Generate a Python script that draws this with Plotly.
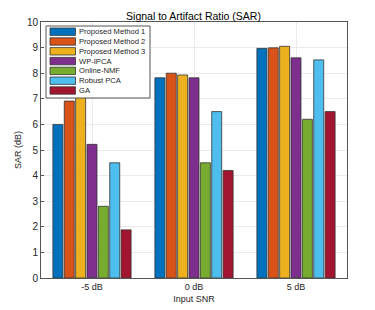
import plotly.graph_objects as go

categories = ["-5 dB", "0 dB", "5 dB"]
methods = ["Proposed Method 1", "Proposed Method 2", "Proposed Method 3",
           "WP-IPCA", "Online-NMF", "Robust PCA", "GA"]
pm1 = [6.0, 7.82, 8.97]
pm2 = [6.91, 8.0, 8.99]
pm3 = [7.06, 7.93, 9.05]
wpipca = [5.22, 7.82, 8.6]
onmf = [2.8, 4.5, 6.2]
rpca = [4.5, 6.5, 8.52]
ga = [1.88, 4.2, 6.5]
series = [pm1, pm2, pm3, wpipca, onmf, rpca, ga]
colors = ["#0072BD", "#D95319", "#EDB120", "#7E2F8E", "#77AC30", "#4DBEEE", "#A2142F"]

# page has an 8px body margin; figure sized to fit the window
OFF = 8
W, H = 375 - OFF, 310 - OFF
ML, MR, MT, MB = 41 - OFF, 28, 22 - OFF, 32
PW, PH = W - ML - MR, H - MT - MB


def px(x):  # page pixel -> paper
    return (x - OFF - ML) / PW


def py(y):
    return (H - MB - (y - OFF)) / PH


fig = go.Figure()
for name, vals, c in zip(methods, series, colors):
    fig.add_trace(go.Bar(x=categories, y=vals, name=name, marker_color=c,
                         marker_line_color="#333333", marker_line_width=0.8,
                         showlegend=False))

# compact MATLAB-style legend
shapes = [dict(type="rect", xref="paper", yref="paper",
               x0=px(46), x1=px(150), y0=py(26), y1=py(98),
               fillcolor="white", line=dict(color="#555555", width=1), layer="above")]
annotations = []
for i, (name, c) in enumerate(zip(methods, colors)):
    yc = 31.7 + i * 9.8
    shapes.append(dict(type="rect", xref="paper", yref="paper",
                       x0=px(50), x1=px(75.5), y0=py(yc - 3.7), y1=py(yc + 3.7),
                       fillcolor=c, line=dict(color="#333333", width=0.8), layer="above"))
    annotations.append(dict(text=name, xref="paper", yref="paper", x=px(76.5),
                            y=py(yc), xanchor="left", yanchor="middle",
                            showarrow=False, font=dict(size=7.6, color="#262626")))

font = "Liberation Sans, Arial, sans-serif"
fig.update_layout(
    width=W, height=H,
    margin=dict(l=ML, r=MR, t=MT, b=MB),
    paper_bgcolor="white", plot_bgcolor="white",
    barmode="group", bargap=0.22, bargroupgap=0.12,
    font=dict(family=font, size=9, color="#262626"),
    title=dict(text="Signal to Artifact Ratio (SAR)", x=(193.5 - OFF) / W,
               xanchor="center", y=1 - (16 - OFF) / H, yanchor="middle",
               font=dict(size=10.5, color="#000000")),
    showlegend=False,
    shapes=shapes, annotations=annotations,
    xaxis=dict(range=[-0.5, 2.5], showgrid=True, gridcolor="#ebebeb",
               showline=True, linecolor="#555555", mirror=True, linewidth=1,
               ticks="inside", ticklen=3, tickcolor="#555555", automargin=False,
               title=dict(text="Input SNR", font=dict(size=9, color="#262626"), standoff=4),
               tickfont=dict(size=9, color="#262626")),
    yaxis=dict(range=[0, 10], dtick=1, showgrid=True, gridcolor="#ebebeb",
               showline=True, linecolor="#555555", mirror=True, linewidth=1,
               ticks="inside", ticklen=3, tickcolor="#555555", zeroline=False,
               automargin=False,
               title=dict(text="SAR (dB)", font=dict(size=9, color="#262626"), standoff=3),
               tickfont=dict(size=10, color="#262626")),
)
fig.write_html("out.html")
